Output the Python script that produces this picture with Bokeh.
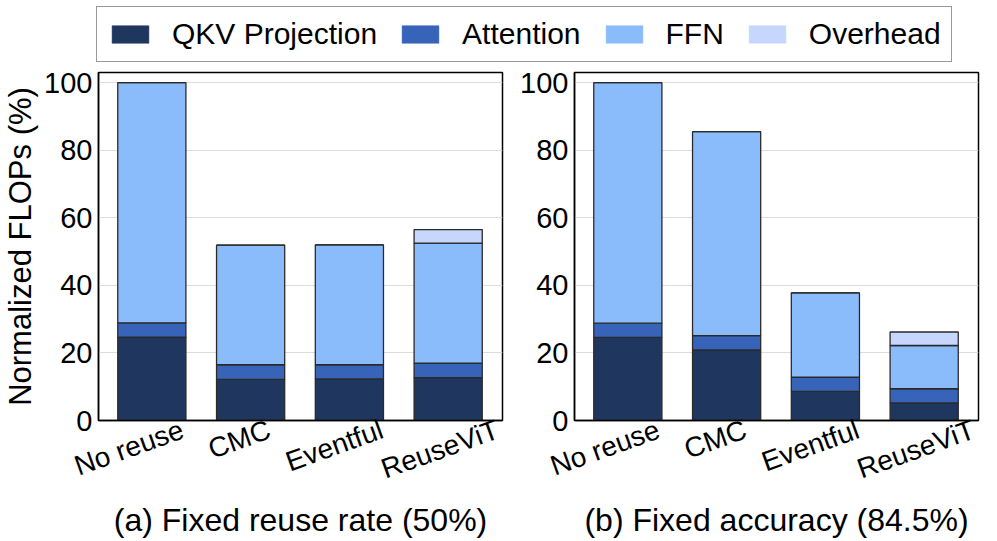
from bokeh.plotting import figure
from bokeh.models import ColumnDataSource, Range1d, FixedTicker, Legend, LegendItem
from bokeh.layouts import column, row
from bokeh.embed import file_html
from bokeh.resources import INLINE

categories = ["No reuse", "CMC", "Eventful", "ReuseViT"]
series = ["QKV Projection", "Attention", "FFN", "Overhead"]
colors = ["#1f365f", "#3764b8", "#8abcfc", "#c7d6fc"]

a_qkv = [24.7, 12.2, 12.3, 12.7]
a_attn = [4.2, 4.3, 4.2, 4.3]
a_ffn = [71.1, 35.4, 35.5, 35.5]
a_over = [0.0, 0.0, 0.0, 4.0]

b_qkv = [24.6, 20.9, 8.6, 5.2]
b_attn = [4.2, 4.2, 4.2, 4.2]
b_ffn = [71.2, 60.4, 25.0, 12.8]
b_over = [0.0, 0.0, 0.0, 4.0]

y_ticks = [0, 20, 40, 60, 80, 100]
# horizontal nudge of each rotated category label (in category units)
label_shift = [0.31, 0.19, 0.33, 0.50]

FONT = "Liberation Sans"
keys = ["qkv", "attn", "ffn", "over"]


def panel(qkv, attn, ffn, over, title, width, left, right, ylabel):
    xs = list(range(len(categories)))
    src = ColumnDataSource(dict(x=xs, qkv=qkv, attn=attn, ffn=ffn, over=over))
    p = figure(width=width, height=477, output_backend="svg", toolbar_location=None,
               x_range=Range1d(-0.54, 3.55), y_range=Range1d(0, 103),
               min_border_left=left, min_border_right=right, min_border_top=8,
               min_border_bottom=118)
    p.vbar_stack(keys, x="x", width=0.69, source=src, fill_color=colors,
                 line_color="#2a2a2a", line_width=1.3)
    p.outline_line_color = "black"
    p.outline_line_width = 1.5
    p.xgrid.visible = False
    p.ygrid.grid_line_color = "#dcdcdc"
    p.ygrid.grid_line_width = 1
    p.yaxis.ticker = FixedTicker(ticks=y_ticks)
    tick_pos = [x + s for x, s in zip(xs, label_shift)]
    p.xaxis.ticker = FixedTicker(ticks=tick_pos)
    p.xaxis.major_label_overrides = {t: c for t, c in zip(tick_pos, categories)}
    for ax in (p.xaxis[0], p.yaxis[0]):
        ax.major_tick_out = 0
        ax.major_tick_in = 0
        ax.minor_tick_out = 0
        ax.minor_tick_in = 0
        ax.axis_line_color = "black"
        ax.axis_line_width = 1.5
        ax.major_label_text_font = FONT
        ax.major_label_text_font_size = "29px"
        ax.major_label_text_color = "black"
        ax.axis_label_text_font = FONT
        ax.axis_label_text_font_style = "normal"
        ax.axis_label_text_color = "black"
    p.xaxis.major_label_text_font_size = "28px"
    p.yaxis.major_label_standoff = 6
    p.xaxis.major_label_standoff = 8
    p.xaxis.major_label_orientation = 0.345
    p.xaxis.axis_label = title
    p.xaxis.axis_label_text_font_size = "32px"
    p.xaxis.axis_label_standoff = 0
    if ylabel:
        p.yaxis.axis_label = ylabel
        p.yaxis.axis_label_text_font_size = "31px"
        p.yaxis.axis_label_standoff = 3
    return p


p1 = panel(a_qkv, a_attn, a_ffn, a_over, "(a) Fixed reuse rate (50%)", 505, 97, 3,
           "Normalized FLOPs (%)")
p2 = panel(b_qkv, b_attn, b_ffn, b_over, "(b) Fixed accuracy (84.5%)", 476, 69, 3, None)

# legend strip (dummy zero-size bars hidden behind the legend box only feed the legend)
lg = figure(width=981, height=64, output_backend="svg", toolbar_location=None,
            x_range=Range1d(0, 1), y_range=Range1d(0, 1), min_border=0)
lg.axis.visible = False
lg.grid.visible = False
lg.outline_line_color = None
items = []
for name, c in zip(series, colors):
    r = lg.vbar(x=[0.5], top=[0.5], bottom=[0.5], width=0.0, fill_color=c, line_color=c,
                line_width=0.5)
    items.append(LegendItem(label=name, renderers=[r]))
legend = Legend(items=items, orientation="horizontal", location=(96, 2),
                glyph_width=46, glyph_height=22, label_standoff=19, spacing=20,
                padding=10, margin=0, border_line_color="#333333", border_line_width=1.5,
                label_text_font=FONT, label_text_font_size="30px",
                label_text_color="black", background_fill_alpha=1)
lg.add_layout(legend, "center")

layout = column(lg, row(p1, p2))
open("out.html", "w").write(file_html(layout, INLINE))
